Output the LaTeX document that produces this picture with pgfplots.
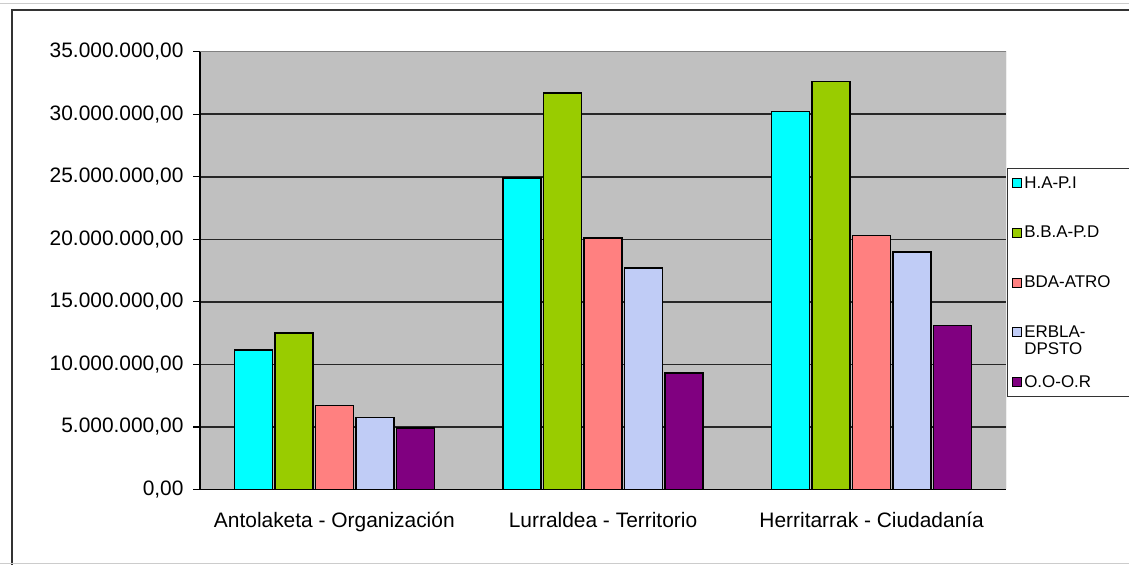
\documentclass[border=0pt]{standalone}
\usepackage{fontspec}
\setmainfont{Liberation Sans}
\usepackage{pgfplots}
\pgfplotsset{compat=1.18}

\definecolor{cHAPI}{HTML}{00FFFF}
\definecolor{cBBAPD}{HTML}{99CC00}
\definecolor{cBDA}{HTML}{FF8080}
\definecolor{cERBLA}{HTML}{C0CCF6}
\definecolor{cOOOR}{HTML}{800080}
\definecolor{plotgrey}{HTML}{C0C0C0}

\begin{document}
\begin{tikzpicture}[x=1bp,y=1bp]
  \path[use as bounding box] (0,0) rectangle (1129,565);
  % spreadsheet frame
  \draw[black!80, line width=1.5bp] (12,-10) -- (12,555) -- (1140,555);
  \draw[gray!40] (0,562) -- (1129,562);
  \draw[gray!40] (0,2) -- (1129,2);

  \begin{axis}[
    at={(200bp,75.5bp)}, anchor=south west,
    scale only axis,
    width=806bp, height=437.8bp,
    ybar=2.5bp, bar width=38bp,
    xmin=-0.5, xmax=2.5,
    ymin=0, ymax=35000000,
    xtick={0,1,2},
    xticklabels={Antolaketa - Organización, Lurraldea - Territorio, Herritarrak - Ciudadanía},
    major x tick style={draw=none},
    extra x ticks={-0.5,0.5,1.5,2.5},
    extra x tick labels={},
    extra x tick style={major tick length=7bp, tick align=outside, tick style={black, line width=1.2bp}},
    ytick={0,5000000,10000000,15000000,20000000,25000000,30000000,35000000},
    scaled y ticks=false,
    /pgf/number format/fixed,
    /pgf/number format/fixed zerofill,
    /pgf/number format/precision=2,
    /pgf/number format/1000 sep={.},
    /pgf/number format/use comma,
    /pgf/number format/assume math mode=true,
    yticklabel style={font=\fontsize{21}{23}\selectfont, xshift=-6bp},
    xticklabel style={font=\fontsize{21}{23}\selectfont, yshift=-12bp},
    major tick length=7bp,
    tick align=outside,
    tick style={black, line width=1.2bp},
    ymajorgrids,
    grid style={black!85, line width=1.5bp},
    axis x line*=bottom, axis y line*=left,
    axis line style={black, line width=1.5bp},
    axis background/.style={fill=plotgrey},
    legend style={at={(1.001,0.734)}, anchor=north west, draw=black!80, line width=1bp,
      fill=white, nodes={font=\fontsize{17}{17}\selectfont}, row sep=32.5bp,
      inner xsep=5bp, inner ysep=6bp, cells={align=left},
      row 5/.style={nodes={text depth=24bp}}},
    legend cell align=left,
    legend image code/.code={\draw[#1, line width=1bp] (0bp,-4.5bp) rectangle (9bp,4.5bp);},
  ]
    \draw[gray, line width=1bp] (rel axis cs:0,1) -- (rel axis cs:1,1) -- (rel axis cs:1,0);
    \addplot[fill=cHAPI, draw=black, line width=1.5bp] coordinates {(0,11160000) (1,24900000) (2,30200000)};
    \addplot[fill=cBBAPD, draw=black, line width=1.5bp] coordinates {(0,12500000) (1,31700000) (2,32600000)};
    \addplot[fill=cBDA, draw=black, line width=1.5bp] coordinates {(0,6700000) (1,20100000) (2,20300000)};
    \addplot[fill=cERBLA, draw=black, line width=1.5bp] coordinates {(0,5750000) (1,17700000) (2,19000000)};
    \addplot[fill=cOOOR, draw=black, line width=1.5bp] coordinates {(0,4900000) (1,9300000) (2,13100000)};
    \addlegendentry{H.A-P.I\hspace*{70bp}}
    \addlegendentry{B.B.A-P.D}
    \addlegendentry{BDA-ATRO}
    \addlegendentry{\raisebox{0pt}[\height][0pt]{\parbox[t]{90bp}{\fontsize{17}{17}\selectfont ERBLA-\\DPSTO}}}
    \addlegendentry{O.O-O.R}
  \end{axis}
\end{tikzpicture}
\end{document}
